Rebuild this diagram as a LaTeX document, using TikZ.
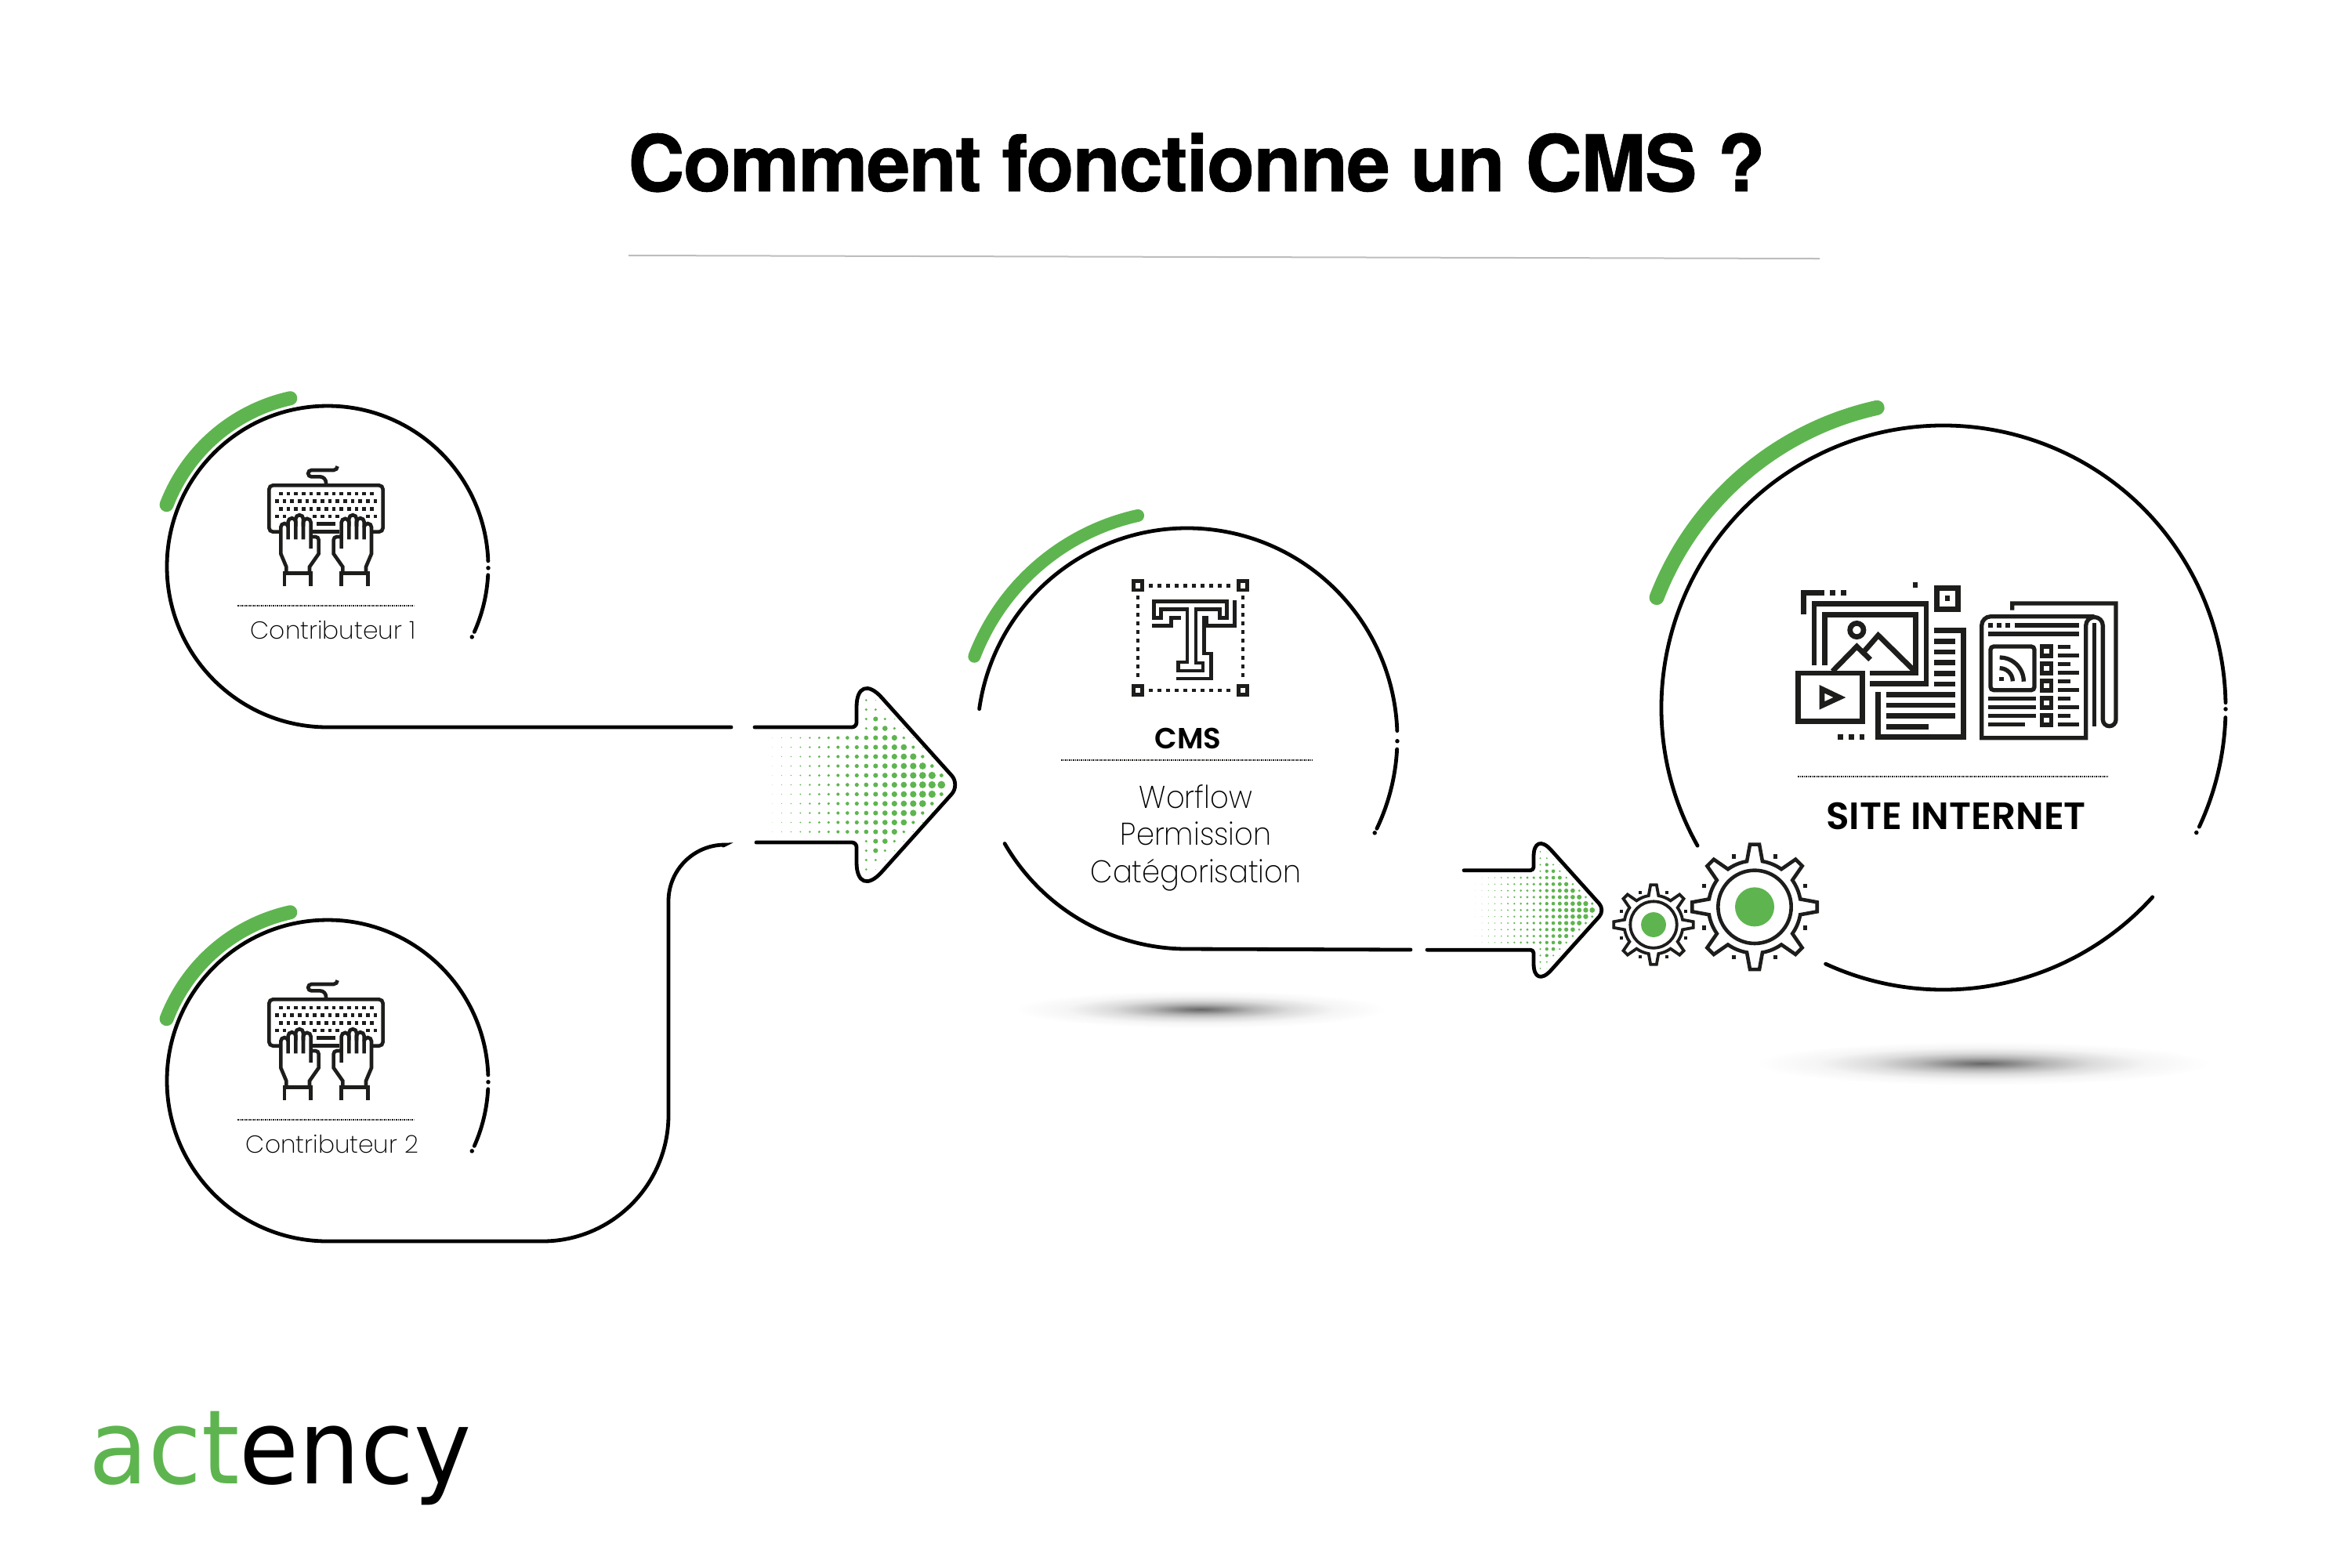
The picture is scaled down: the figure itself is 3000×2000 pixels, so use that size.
\documentclass[tikz,border=0pt]{standalone}
\usepackage{fontspec}
\usetikzlibrary{calc}
\newfontfamily\titlefont[LetterSpace=-1.55,BoldFeatures={FakeBold=0.7}]{TeX Gyre Heros}
\newfontfamily\thinfont{Poppins ExtraLight}
\newfontfamily\midfont{Poppins SemiBold}
\newfontfamily\logofont{DejaVu Sans}
\definecolor{actGreen}{HTML}{5EB54F}
\definecolor{actInk}{HTML}{1D1D1B}
\definecolor{actRule}{HTML}{BDBDBD}
\pgfdeclareradialshading{groundshade}{\pgfpointorigin}{color(0bp)=(black!60); color(3bp)=(black!47); color(7bp)=(black!29); color(12bp)=(black!14); color(18bp)=(black!4); color(25bp)=(white); color(50bp)=(white)}
\tikzset{
  ring/.style={draw=black, line width=0.48mm, line cap=round},
  accent/.style={draw=actGreen, line width=1.8mm, line cap=round},
  ikon/.style={draw=actInk, line width=0.46mm},
  ikonfat/.style={draw=actInk, line width=0.67mm},
  ikonmid/.style={draw=actInk, line width=0.53mm},
  dotrule/.style={draw=actInk, line width=0.15mm, dash pattern=on 0.15mm off 0.1mm},
  pin/.style={fill=black, inner sep=0pt, circle, minimum size=0.55mm},
  tag/.style={inner sep=0pt, anchor=base, text=black, font=\thinfont\fontsize{8.9}{10}\selectfont},
  bodytxt/.style={inner sep=0pt, align=center, text=black, xscale=0.92, font=\thinfont\fontsize{11.4}{13.5}\selectfont},
}
\newcommand{\handicon}{%
  \draw[ikon] (549,805)--(549,755)--(650,755)--(650,805);
  \draw[ikon] (556,755)--(556,730)--(535,680)--(535,578) arc (180:360:14) -- (563,625);
  \draw[ikon] (563,578)--(563,558) arc (180:360:14.5) -- (592,625);
  \draw[ikon] (592,575)--(592,546) arc (180:360:14.5) -- (621,625);
  \draw[ikon] (621,575)--(621,560) arc (180:360:14.5) -- (650,660);
  \draw[ikon] (652,615)--(668,615) arc (270:360:12) -- (680,680) -- (645,730) -- (645,755);
}
\newcommand{\keyboardicon}[2]{%
  \begin{scope}[shift={(#1,#2)},scale=1/3]
    \draw[ikon,rounded corners=0.5mm] (530,596)--(490,596)--(490,418)--(926,418)--(926,596)--(885,596);
    \draw[ikon] (655,596)--(760,596);
    \draw[ikon] (708,418)--(708,408) arc (0:-90:23) -- (652,385) arc (90:270:12.5) -- (737,360) arc (90:0:15);
    \foreach \kx in {535,564,...,883}{\draw[ikon] (\kx-7,450)--++(14,0); \draw[ikon] (\kx-7,508)--++(14,0);}
    \foreach \kx in {520,549,...,897}{\draw[ikon] (\kx-7,479)--++(14,0);}
    \foreach \kx in {520,549,665,694,723,752,868,897}{\draw[ikon] (\kx-7,537)--++(14,0);}
    \draw[ikon] (672,565)--(745,565);
    \handicon
    \begin{scope}[shift={(1417,0)},xscale=-1]
      \handicon
    \end{scope}
  \end{scope}
}
\newcommand{\dotarrow}[5]{%
  \pgfmathsetmacro{\cornerbig}{#3*4.8}
  \pgfmathsetmacro{\cornertip}{#3*1.6}
  \pgfmathsetmacro{\cornersoft}{#3*0.6}
  \begin{scope}[shift={(#1,#2)},scale=#3]
    \foreach \c in {0,...,18}{
      \foreach \r in {-9,...,9}{
        \pgfmathsetmacro{\base}{4.9*(19-\c)/19}
        \pgfmathsetmacro{\aa}{abs(\r)}
        \pgfmathsetmacro{\dotr}{\c>8 ? (\aa>5 ? 0 : \base) : (\aa>\c+2 ? 0 : (\aa>\c+1 ? 0.15*\base : (\aa>\c ? 0.5*\base : (\c==8 && \aa>5 ? 0.6*\base : \base))))}
        \ifdim\dotr pt>0pt
          \fill[actGreen] (108.3-12*\c,12*\r) circle (\dotr);
        \fi
      }
    }
    \draw[ring,line join=round,rounded corners=\cornersoft mm] (#4,-73.5)--(0,-73.5)
      [rounded corners=\cornerbig mm] --(0,-147)
      [rounded corners=\cornertip mm] --(132,0)
      [rounded corners=\cornerbig mm] --(0,147)
      [rounded corners=\cornersoft mm] --(0,73.5)--(#5,73.5);
  \end{scope}
}
\newcommand{\gearicon}[4]{%
  \begin{scope}[shift={(#1,#2)},scale=#3]
    \draw[ikon,line width=#4,line join=miter] (-9.7:177)
      \foreach \a in {0,45,...,315}{ -- (\a-9.7:177) -- (\a-4.3:240) -- (\a+4.3:240) -- (\a+9.7:177) arc (\a+9.7:\a+35.3:177) } -- cycle;
    \draw[ikon,line width=#4] (0,0) circle (140);
    \fill[actGreen] (0,0) circle (75);
    \foreach \a in {22.5,67.5,...,337.5}{\fill[actInk] (\a:209) ++(-8,-8) rectangle ++(16,16);}
  \end{scope}
}
\begin{document}
\begin{tikzpicture}[x=0.1mm,y=-0.1mm]
  \useasboundingbox (0,0) rectangle (3000,2000);
  \node[inner sep=0pt,anchor=base,font=\titlefont\bfseries\fontsize{28.4}{30}\selectfont] (title) at (1527,244) {Comment fonctionne un CMS ?};
  \coordinate (ruleL) at (802,326); \coordinate (ruleR) at (2322,330);
  \draw[actRule,line width=0.2mm] (ruleL)--(ruleR);

  \coordinate (contribA) at (418,723);
  \coordinate (contribB) at (418,1379);
  \coordinate (cms) at (1515,942);
  \coordinate (site) at (2480,903);
  \coordinate (gapA) at (933,928);
  \coordinate (gapB) at (923,1079);
  \coordinate (gapC) at (1800,1212);

  \foreach \hub/\rad/\wid in {contribA/220/1.8mm,contribB/220/1.8mm,cms/291/1.6mm,site/392/1.9mm}{
    \draw[accent,line width=\wid] (\hub) ++(201:\rad) arc (201:257.5:\rad);
  }
  \draw[ring] (contribA) ++(358:205) arc (358:90:205) -- (gapA);
  \draw[ring] (contribA) ++(3:205) arc (3:24:205);
  \node[pin] (dotA) at ($(contribA)+(0.5:205)$) {};
  \node[pin] (endA) at ($(contribA)+(26:205)$) {};

  \draw[ring] (contribB) ++(358:205) arc (358:90:205) -- (692,1584) arc (90:0:161) -- (853,1150) arc (180:270:72) -- (gapB);
  \draw[ring] (contribB) ++(3:205) arc (3:24:205);
  \node[pin] (dotB) at ($(contribB)+(0.5:205)$) {};
  \node[pin] (endB) at ($(contribB)+(26:205)$) {};

  \draw[ring] (cms) ++(188:268) arc (188:358:268);
  \draw[ring] (cms) ++(3:268) arc (3:25.5:268);
  \draw[ring] (cms) ++(150:269) arc (150:90:269) -- (gapC);
  \node[pin] (dotC) at ($(cms)+(0.8:268)$) {};
  \node[pin] (endC) at ($(cms)+(26.8:268)$) {};

  \draw[ring] (site) ++(150.7:360) arc (150.7:359:360);
  \draw[ring] (site) ++(2:360) arc (2:25:360);
  \draw[ring] (site) ++(114.7:360) arc (114.7:42.2:360);
  \node[pin] (dotD) at ($(site)+(0.3:360)$) {};
  \node[pin] (endD) at ($(site)+(26.3:360)$) {};

  \dotarrow{1093}{1001.5}{1}{-130}{-128}
  \dotarrow{1957}{1161.4}{0.69}{-129}{-197}

  \keyboardicon{180}{480}
  \keyboardicon{180}{1136}
  \draw[dotrule] (303,773)--(528,773);
  \draw[dotrule] (303,1429)--(528,1429);
  \node[tag] (contribLabelA) at (425,815) {Contributeur 1};
  \node[tag] (contribLabelB) at (424,1471) {Contributeur 2};

  % T
  \begin{scope}[shift={(1400,720)},scale=1/3]
    \foreach \cx/\cy in {156/82,558/82,156/483,558/483}{\draw[ikon] (\cx-17,\cy-17) rectangle (\cx+17,\cy+17);}
    \foreach \d in {205,238,...,502}{\draw[ikon] (\d-7,82)--++(14,0); \draw[ikon] (\d-7,483)--++(14,0);}
    \foreach \d in {128,161,...,425}{\draw[ikon] (149,\d)--++(14,0); \draw[ikon] (551,\d)--++(14,0);}
    \draw[ikon] (217,212)--(217,142)--(497,142)--(497,205)--(470,205)--(470,172)--(378,172)--(378,378)--(405,378)--(405,408)--(310,408)--(310,375)--(345,375)--(345,172)--(245,172)--(245,205)--(222,205);
    \draw[ikon] (210,236)--(283,236)--(283,205)--(320,205);
    \draw[ikon] (527,138)--(527,236)--(420,236)--(420,205)--(410,205)--(410,342)--(437,342)--(437,438)--(303,438);
  \end{scope}
  \node[inner sep=0pt,anchor=base,text=black,font=\midfont\fontsize{10.6}{12}\selectfont] (cmsLabel) at (1516,955) {CMS};
  \draw[dotrule] (1354,970)--(1675,970);
  \node[bodytxt] (cmsBody) at (1526,1069) {Worflow\\Permission\\Catégorisation};
  \shade[shading=groundshade] (1532,1288) ellipse (237 and 24);

  \gearicon{2110}{1180}{0.212}{0.38mm}
  \gearicon{2239}{1157.3}{0.3333}{0.46mm}

  % site
  \begin{scope}[shift={(2260,720)},scale=1/3]
    \draw[ikonfat] (124,192)--(124,110)--(205,110);
    \foreach \sx/\sy in {236/110,277/110,552/80,675/131,266/662,307/662,348/662}{\draw[ikonfat] (\sx-10,\sy)--++(20,0);}
    \draw[ikonfat] (635,92) rectangle (716,173);
    \draw[ikonfat] (165,388)--(165,152)--(594,152)--(594,458)--(378,458);
    \draw[ikonfat] (206,388)--(206,193)--(553,193)--(553,417)--(378,417);
    \draw[ikonfat] (328,252) circle (26);
    \draw[ikonfat] (235,410)--(328,315)--(380,365);
    \draw[ikonfat] (355,335)--(410,272)--(545,405);
    \draw[ikonfat,fill=white] (103,417) rectangle (349,601);
    \draw[ikonfat] (195,478)--(195,541)--(262,510)--cycle;
    \draw[ikonfat] (625,254)--(736,254)--(736,662)--(410,662)--(410,490);
    \foreach \ly in {295,336,...,459}{\draw[ikonfat] (625,\ly)--(706,\ly);}
    \foreach \ly in {499,540,581}{\draw[ikonfat] (440,\ly)--(706,\ly);}
    \draw[ikonfat] (440,622)--(604,622);

    \draw[ikonmid] (923,176)--(923,150)--(1320,150)--(1320,595) arc (0:180:25) -- (1270,235) arc (360:180:32.5) -- (1205,665) -- (806,665) -- (806,235) arc (180:270:35) -- (1237,200);
    \draw[ikonmid] (1238,225)--(1238,622);
    \foreach \sx in {840,873,906}{\draw[ikonmid] (\sx-9,234)--++(18,0);}
    \draw[ikonmid] (932,234)--(1180,234);
    \draw[ikonmid] (832,267)--(1180,267);
    \draw[ikonmid,rounded corners=0.4mm] (840,315) rectangle (1008,482);
    \draw[ikonmid] (873,440)--++(18,0);
    \draw[ikonmid] (875,398) arc (270:360:50);
    \draw[ikonmid] (875,357) arc (270:360:92);
    \foreach \ly in {333,399,465,531,597}{
      \draw[ikonmid] (1037,\ly-18) rectangle (1073,\ly+18);
      \draw[ikonmid] (1097,\ly-16)--(1147,\ly-16);
      \draw[ikonmid] (1097,\ly+17)--(1180,\ly+17);
    }
    \foreach \ly in {515,548,581}{\draw[ikonmid] (832,\ly)--(1015,\ly);}
    \draw[ikonmid] (832,614)--(973,614);
  \end{scope}
  \draw[dotrule] (2294,991)--(2690,991);
  \node[inner sep=0pt,anchor=base,text=black,font=\midfont\fontsize{13.8}{14}\selectfont] (siteLabel) at (2496,1058) {SITE INTERNET};
  \shade[shading=groundshade] (2530,1357) ellipse (290 and 28);

  \node[inner sep=0pt,anchor=base west,font=\logofont\fontsize{37.4}{40}\selectfont,xscale=0.94] (logo) at (113,1893) {\textcolor{actGreen}{act}ency};
\end{tikzpicture}
\end{document}
